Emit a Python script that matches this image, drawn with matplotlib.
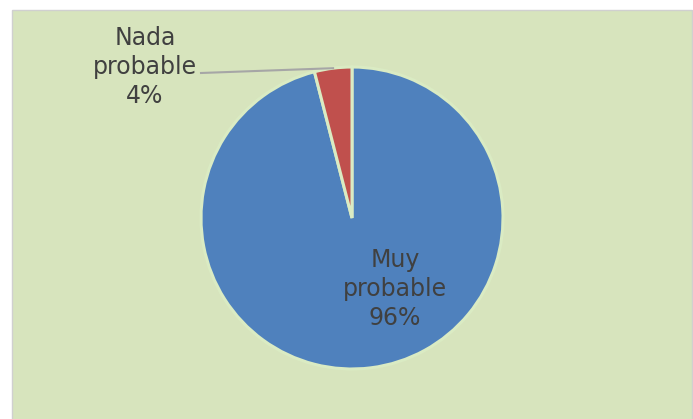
import numpy as np
import matplotlib.pyplot as plt
from matplotlib.patches import Rectangle

# data
labels = ["Muy\nprobable", "Nada\nprobable"]
values = [96, 4]
colors = ["#4F81BD", "#C0504D"]

W, H = 693, 419
bg = "#D7E4BD"
txt = "#404040"

fig = plt.figure(figsize=(W / 100, H / 100), dpi=100)
ax = fig.add_axes([0, 0, 1, 1])

# chart area
ax.add_patch(Rectangle((12, -2), W - 13, H - 8, facecolor=bg,
                       edgecolor="#D0D0D0", linewidth=1, zorder=0))

cx, cy, r = 352, H - 218, 151
wedges, _ = ax.pie(values, colors=colors, startangle=90, counterclock=False,
                   center=(cx, cy), radius=r, frame=True,
                   wedgeprops=dict(edgecolor="#DAEBC3", linewidth=2.2))
ax.set_xlim(0, W)
ax.set_ylim(0, H)
ax.set_aspect("equal")
ax.axis("off")

pct = [f"{v}%" for v in values]

# inside label
ax.text(395, H - 289, f"{labels[0]}\n{pct[0]}", ha="center", va="center",
        fontsize=17, color=txt, linespacing=1.25)

# outside label with leader line
w = wedges[1]
mid = np.deg2rad((w.theta1 + w.theta2) / 2)
ex, ey = cx + r * np.cos(mid), cy + r * np.sin(mid)
ax.text(145, H - 67, f"{labels[1]}\n{pct[1]}", ha="center", va="center",
        fontsize=17, color=txt, linespacing=1.25)
ax.plot([201, ex], [H - 73, ey], color="#A6A6A6", linewidth=1.5)

fig.savefig("out.png", dpi=100, facecolor="white")
